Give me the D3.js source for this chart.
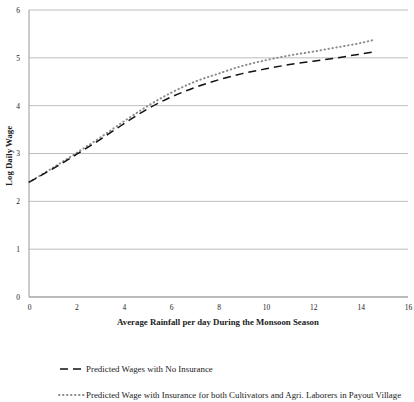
<!DOCTYPE html>
<meta charset="utf-8">
<style>
body { margin: 0; background: #fff; }
svg text { font-family: "Liberation Serif", "Times New Roman", serif; fill: #222; }
.grid line { stroke: #bdbdbd; stroke-width: 1; }
.tick text { font-size: 7.5px; }
.title { font-size: 8.8px; font-weight: bold; }
.legend text { font-size: 8.9px; }
</style>
<svg width="414" height="402"></svg>
<script src="https://cdn.jsdelivr.net/npm/d3@7"></script>
<script>

var rainfall = [0, 1, 2, 3, 4, 5, 6, 7, 8, 9, 10, 11, 12, 13, 14, 14.6];
var noInsurance = [2.40, 2.68, 2.98, 3.29, 3.62, 3.93, 4.18, 4.38, 4.54, 4.67, 4.77, 4.86, 4.93, 5.00, 5.08, 5.13];
var withInsurance = [2.40, 2.70, 3.01, 3.33, 3.67, 3.99, 4.27, 4.50, 4.67, 4.83, 4.95, 5.05, 5.13, 5.22, 5.31, 5.38];
var xTicks = [0, 2, 4, 6, 8, 10, 12, 14, 16];
var yTicks = [0, 1, 2, 3, 4, 5, 6];
var legendLabels = ["Predicted Wages with No Insurance",
  "Predicted Wage with Insurance for both Cultivators and Agri. Laborers in Payout Village"];

var svg = d3.select("svg");

var x = d3.scaleLinear().domain([0, 16]).range([29, 408]);
var y = d3.scaleLinear().domain([0, 6]).range([297, 10]);

// horizontal grid
svg.append("g")
    .attr("class", "grid")
  .selectAll("line")
    .data(yTicks)
  .enter().append("line")
    .attr("x1", x(0)).attr("x2", x(16))
    .attr("y1", function(d) { return y(d); })
    .attr("y2", function(d) { return y(d); });

// axis lines
svg.append("line")
    .attr("x1", x(0)).attr("x2", x(0))
    .attr("y1", y(0)).attr("y2", y(6))
    .attr("stroke", "#999");

svg.append("line")
    .attr("x1", x(0)).attr("x2", x(16))
    .attr("y1", y(0)).attr("y2", y(0))
    .attr("stroke", "#999");

svg.append("g")
    .attr("transform", "translate(0," + (y(0) + 4) + ")")
    .call(d3.axisBottom(x).tickValues(xTicks).tickFormat(d3.format("d")).tickSize(0).tickPadding(4))
    .call(function(g) { g.select(".domain").remove(); })
    .attr("font-family", null);

svg.append("g")
    .attr("transform", "translate(" + (x(0) - 5) + ",0)")
    .call(d3.axisLeft(y).tickValues(yTicks).tickFormat(d3.format("d")).tickSize(0).tickPadding(4))
    .call(function(g) { g.select(".domain").remove(); })
    .attr("font-family", null);

svg.append("text")
    .attr("class", "title")
    .attr("x", 218).attr("y", 325)
    .attr("text-anchor", "middle")
    .text("Average Rainfall per day During the Monsoon Season");

svg.append("text")
    .attr("class", "title")
    .attr("transform", "translate(12," + y(2.95) + ") rotate(-90)")
    .attr("text-anchor", "middle")
    .text("Log Daily Wage");

var line = d3.line()
    .x(function(d) { return x(d[0]); })
    .y(function(d) { return y(d[1]); })
    .curve(d3.curveMonotoneX);

svg.append("path")
    .datum(d3.zip(rainfall, withInsurance))
    .attr("d", line)
    .attr("fill", "none")
    .attr("stroke", "#8c8c8c")
    .attr("stroke-width", 2)
    .attr("stroke-linecap", "round")
    .attr("stroke-dasharray", "0.5,3.5");

svg.append("path")
    .datum(d3.zip(rainfall, noInsurance))
    .attr("d", line)
    .attr("fill", "none")
    .attr("stroke", "#111")
    .attr("stroke-width", 1.5)
    .attr("stroke-dasharray", "8,5");

// legend
var legend = svg.append("g").attr("class", "legend");

legend.append("line")
    .attr("x1", 60).attr("x2", 84).attr("y1", 369).attr("y2", 369)
    .attr("stroke", "#111").attr("stroke-width", 1.5)
    .attr("stroke-dasharray", "8,5");
legend.append("text")
    .attr("x", 86).attr("y", 372)
    .text(legendLabels[0]);

legend.append("line")
    .attr("x1", 59).attr("x2", 84).attr("y1", 395).attr("y2", 395)
    .attr("stroke", "#8c8c8c").attr("stroke-width", 2)
    .attr("stroke-linecap", "round")
    .attr("stroke-dasharray", "0.5,3.5");
legend.append("text")
    .attr("x", 86).attr("y", 398)
    .text(legendLabels[1]);

</script>
